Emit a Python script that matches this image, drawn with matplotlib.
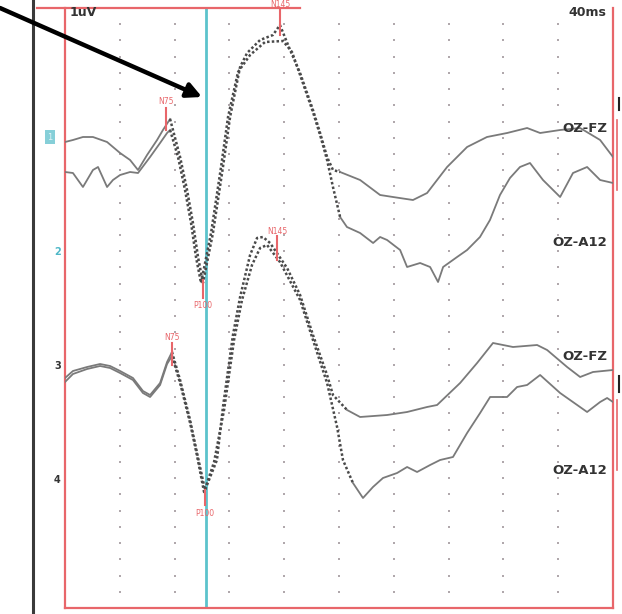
import matplotlib
matplotlib.use("Agg")
import matplotlib.pyplot as plt

# time in ms, amplitude position in uV (trace offsets included)
a_ms = [0, 5.8, 13.1, 20.4, 30.7, 40.2, 47.5, 53.3, 59.9, 67.2, 71.5, 76.7, 84, 89.1, 93.4, 97.1,
        100.7, 108, 115.3, 120.5, 127.8, 132.9, 142.4, 151.8, 156.9, 164.3, 171.6, 181, 186.2,
        191.3, 195.6, 200.8, 215.4, 230, 239.4, 254, 264.3, 278.9, 293.5, 308, 322.7, 337.3,
        346.8, 361.4, 376, 390.6, 400]
a_uv = [23.3, 23.4, 23.55, 23.55, 23.3, 22.75, 22.4, 21.9, 22.65, 23.4, 23.9, 24.45, 22.55, 20.9,
        19.25, 17.55, 16.25, 18.75, 22.05, 24.55, 27.05, 27.75, 28.4, 28.65, 29.15, 27.9, 26.75,
        24.9, 23.75, 22.55, 21.9, 21.8, 21.4, 20.65, 20.55, 20.4, 20.75, 22.05, 23.05, 23.55,
        23.75, 24.0, 23.75, 23.9, 24.0, 23.4, 22.55]

b_ms = [0, 5.8, 13.1, 20.4, 24.1, 30.7, 35.0, 40.2, 47.5, 53.3, 62.1, 69.4, 74.5, 76.7, 82.5,
        87.6, 92.0, 95.6, 99.3, 106.6, 113.9, 119.0, 126.3, 135.1, 146.0, 159.1, 165.7, 171.6,
        181.0, 186.2, 191.3, 195.6, 200.8, 205.8, 215.4, 224.9, 230.0, 235.1, 244.6, 249.7,
        259.2, 266.5, 272.3, 276.0, 286.2, 293.5, 302.9, 310.2, 317.5, 324.8, 332.1, 339.4,
        348.9, 361.4, 370.8, 381.1, 390.6, 400]
b_uv = [21.8, 21.75, 21.05, 21.9, 22.05, 21.05, 21.4, 21.65, 21.8, 21.75, 22.55, 23.25, 23.75,
        23.9, 22.55, 20.9, 19.25, 17.55, 16.25, 18.75, 22.05, 24.55, 26.8, 27.65, 28.3, 28.35,
        27.8, 26.65, 24.8, 23.65, 22.4, 21.05, 19.55, 19.05, 18.75, 18.25, 18.55, 18.4, 17.9,
        17.05, 17.25, 17.05, 16.3, 17.05, 17.55, 17.9, 18.55, 19.4, 20.65, 21.5, 22.05, 22.25,
        21.4, 20.55, 21.75, 22.05, 21.4, 21.25]

c_ms = [0, 5.8, 16.1, 25.6, 32.9, 40.2, 49.6, 56.9, 62.1, 69.4, 74.5, 78.1, 84.0, 91.3, 96.4,
        102.2, 110.9, 115.3, 122.6, 127.8, 135.1, 140.2, 144.5, 149.7, 162.1, 171.6, 181.0,
        191.3, 195.6, 205.9, 215.4, 235.1, 249.7, 264.3, 271.6, 288.4, 300.8, 312.4, 327.0,
        344.6, 351.9, 366.5, 376.0, 385.4, 400]
c_uv = [11.5, 11.85, 12.05, 12.2, 12.1, 11.85, 11.5, 10.85, 10.65, 11.25, 12.3, 12.8, 11.4, 9.4,
        7.75, 5.9, 7.4, 10.05, 13.65, 15.55, 17.65, 18.5, 18.55, 18.25, 17.0, 15.65, 13.65,
        11.65, 10.65, 9.9, 9.55, 9.65, 9.8, 10.05, 10.15, 11.25, 12.25, 13.25, 13.05, 13.15,
        12.9, 12.05, 11.55, 11.8, 11.9]

d_ms = [0, 5.8, 16.1, 25.6, 32.9, 40.2, 49.6, 56.9, 62.1, 69.4, 74.5, 78.1, 84.0, 91.3, 96.4,
        101.5, 108.8, 116.1, 123.4, 129.2, 136.5, 142.4, 147.5, 156.9, 171.6, 181.0, 191.3,
        198.6, 202.9, 210.2, 217.5, 224.8, 232.1, 242.4, 249.7, 257.0, 266.5, 273.8, 283.2,
        293.5, 303.0, 310.3, 322.7, 330.0, 337.3, 346.8, 361.4, 381.1, 390.6, 395.7, 400]
d_uv = [11.3, 11.7, 11.95, 12.1, 12.0, 11.75, 11.4, 10.75, 10.55, 11.15, 12.2, 12.6, 11.25, 9.25,
        7.6, 5.8, 7.3, 9.9, 13.4, 15.4, 17.15, 18.0, 18.15, 17.3, 15.4, 13.4, 11.25, 9.05, 7.4,
        6.25, 5.5, 6.05, 6.5, 6.75, 7.05, 6.8, 7.15, 7.4, 7.55, 8.75, 9.75, 10.55, 10.55, 11.05,
        11.15, 11.65, 10.75, 9.8, 10.3, 10.5, 10.3]

traces = [(a_ms, a_uv, 76, 196), (b_ms, b_uv, 76, 196),
          (c_ms, c_uv, 78, 196), (d_ms, d_uv, 78, 205)]

# peak markers: label, time, tick bottom, tick top, label y
peaks = [("N75", 73.7, 23.9, 25.0, 25.3), ("P100", 100.7, 15.5, 16.4, 15.1),
         ("N145", 157.0, 28.65, 29.9, 30.18), ("N75", 78.1, 12.15, 13.25, 13.5),
         ("P100", 102.2, 5.15, 5.9, 4.7), ("N145", 154.8, 17.4, 18.6, 18.85)]

chan_names = [("OZ-FZ", 24.0), ("OZ-A12", 18.25), ("OZ-FZ", 12.55), ("OZ-A12", 6.85)]
chan_nums = [("2", 17.8, "#4fb8c8"), ("3", 12.1, "#333333"), ("4", 6.4, "#333333")]

grid_ms = [40, 80, 120, 160, 200, 240, 280, 320, 360]
red = "#e8666a"

fig = plt.figure(figsize=(6.22, 6.14), dpi=100)
ax = fig.add_axes([65 / 622, 6 / 614, 548 / 622, 600 / 614])
ax.set_xlim(0, 400)
ax.set_ylim(0, 30)
ax.set_xticks([])
ax.set_yticks([])
for side in ["left", "bottom", "right"]:
    ax.spines[side].set_color(red)
    ax.spines[side].set_linewidth(1.6)
ax.spines["top"].set_visible(False)

# dotted grid
gx, gy = [], []
for t in grid_ms:
    for k in range(1, 37):
        gx.append(t)
        gy.append(k * 30 / 37)
ax.scatter(gx, gy, s=2.2, color="#b0a8ac", marker="s", linewidths=0, zorder=1)

ax.axvline(102.6, color="#5cc3cc", lw=2, zorder=2)

for ms, uv, lo, hi in traces:
    pre = [i for i, t in enumerate(ms) if t <= lo]
    mid = [i for i, t in enumerate(ms) if lo <= t <= hi]
    post = [i for i, t in enumerate(ms) if t >= hi]
    pre = pre + [mid[0]]
    mid = mid + [post[0]]
    for idx in (pre, post):
        ax.plot([ms[i] for i in idx], [uv[i] for i in idx], color="#7a7a7a", lw=1.3, zorder=3)
    ax.plot([ms[i] for i in mid], [uv[i] for i in mid], color="#4a4a4a", lw=1.8,
            linestyle=(0, (1.0, 0.9)), zorder=3)

for name, t, y0, y1, ly in peaks:
    ax.plot([t, t], [y0, y1], color=red, lw=1.5, zorder=4, clip_on=False)
    ax.text(t, ly, name, color=red, fontsize=5.5, ha="center", va="center", clip_on=False)

for name, y in chan_names:
    ax.text(396, y, name, fontsize=9.5, fontweight="bold", color="#333333",
            ha="right", va="center", zorder=5)

ax.text(3.5, 29.75, "1uV", fontsize=9, fontweight="bold", color="#333333", va="center")
ax.text(395, 29.75, "40ms", fontsize=9, fontweight="bold", color="#333333", va="center", ha="right")

# left side channel numbers and rulers
ax.text(-11, 23.55, "1", fontsize=6, color="#e0f4f6", ha="center", va="center", clip_on=False,
        bbox=dict(boxstyle="square,pad=0.25", fc="#86cfd8", ec="none"))
for num, y, col in chan_nums:
    ax.text(-5.5, y, num, fontsize=7, fontweight="bold", color=col, ha="center", va="center",
            clip_on=False)
ax.plot([-23.4, -23.4], [-0.5, 30.6], color="#3a3a3a", lw=2.2, clip_on=False)
ax.plot([-20.4, 171.6], [30, 30], color=red, lw=1.6, clip_on=False)

# cut-off panel edges at right
ax.plot([403, 403], [20.9, 24.4], color=red, lw=1.2, clip_on=False)
ax.plot([403, 403], [6.9, 10.4], color=red, lw=1.2, clip_on=False)
ax.plot([404.5, 404.5], [24.9, 25.5], color="#222222", lw=1.5, clip_on=False)
ax.plot([404.5, 404.5], [10.8, 11.6], color="#222222", lw=1.5, clip_on=False)

# arrow
ax.annotate("", xy=(202, 517), xycoords="figure pixels", xytext=(0, 606),
            textcoords="figure pixels",
            arrowprops=dict(arrowstyle="-|>", lw=3.2, color="black", mutation_scale=22,
                            shrinkA=0, shrinkB=0))

fig.savefig("out.png", dpi=100)
